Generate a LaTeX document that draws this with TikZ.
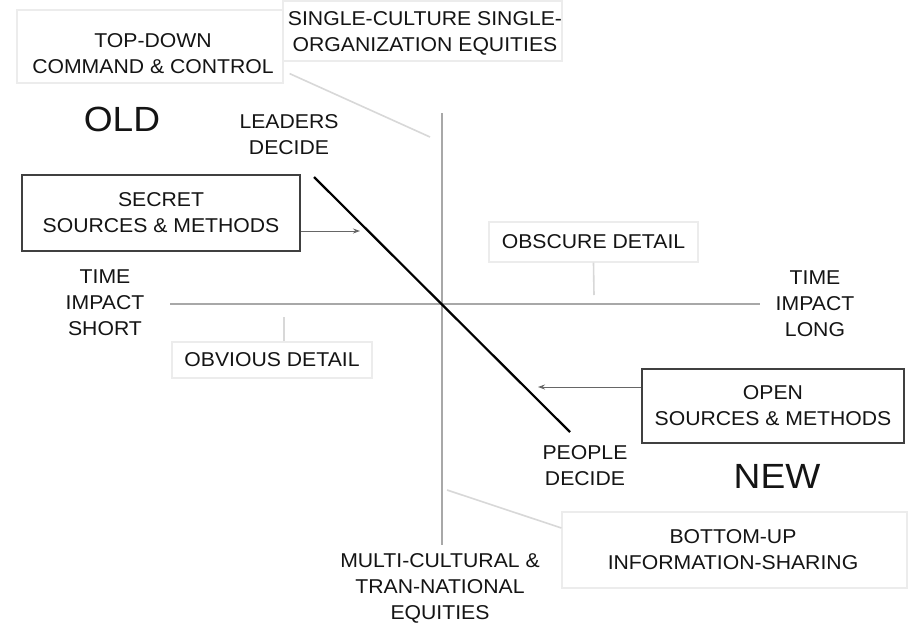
\documentclass[tikz,border=0pt]{standalone}
\usepackage{fontspec}
\setmainfont{Liberation Sans}[FakeStretch=1.06]
\usetikzlibrary{arrows.meta}
\definecolor{ink}{HTML}{141414}
\definecolor{axisgray}{HTML}{A8A8A8}
\definecolor{faint}{HTML}{ECECEC}
\definecolor{faintline}{HTML}{D8D8D8}
\definecolor{boxline}{HTML}{404040}
\tikzset{
  lbl/.style={text=ink, align=center, inner sep=0pt, font=\fontsize{20}{26}\selectfont},
  big/.style={text=ink, inner sep=0pt, font=\fontsize{35}{40}\selectfont},
  solidbox/.style={draw=boxline, line width=1.4pt, minimum width=#1, minimum height=74pt, inner sep=0pt},
  frame/.style={draw=faint, line width=1.2pt, inner sep=0pt},
  axis/.style={draw=axisgray, line width=1.3pt},
  faintconn/.style={draw=faintline, line width=1.6pt},
  decide/.style={draw=black, line width=2.2pt},
  pointer/.style={draw=gray!80!black, line width=1pt, -{Stealth[length=7pt,width=5pt]}}
}
\begin{document}
\begin{tikzpicture}[x=1pt,y=-1pt]
\useasboundingbox (0,0) rectangle (914,625);
\fill[white] (0,0) rectangle (914,625);

% faint frames
\node[frame, minimum width=266pt, minimum height=73pt] (tdframe) at (150,46.5) {};
\node[frame, minimum width=279pt, minimum height=60pt] (scframe) at (422.5,31) {};
\node[frame, minimum width=209pt, minimum height=40pt] (obsframe) at (593.5,242) {};
\node[frame, minimum width=200pt, minimum height=36pt] (obvframe) at (272,360) {};
\node[frame, minimum width=345pt, minimum height=76pt] (buframe) at (734.5,550) {};

% faint connectors
\coordinate (tdend) at (430,137);
\coordinate (obsend) at (594,295);
\coordinate (obvend) at (284,317);
\coordinate (bustart) at (447,490);
\draw[faintconn] (tdframe.south east) ++(6,-10) coordinate (tdstart) -- (tdend);
\draw[faintconn] (obsframe.south) -- (obsend);
\draw[faintconn] (obvframe.north -| obvend) -- (obvend);
\draw[faintconn] (bustart) -- (buframe.west |- 0,528);

% axes
\coordinate (vtop) at (442,113);
\coordinate (vbot) at (442,545);
\coordinate (hleft) at (170,304);
\coordinate (hright) at (760,304);
\draw[axis] (vtop) -- (vbot);
\draw[axis] (hleft) -- (hright);

% decision line
\coordinate (dtop) at (314,177);
\coordinate (dbot) at (570,432);
\draw[decide] (dtop) -- (dbot);

% texts
\node[lbl] (topdown) at (153,53.5) {TOP-DOWN\\COMMAND \& CONTROL};
\node[lbl] (single) at (425,33) {SINGLE-CULTURE SINGLE-\\ORGANIZATION EQUITIES};
\node[big] (old) at (122,119) {OLD};
\node[lbl] (leaders) at (289,135) {LEADERS\\DECIDE};
\node[lbl] (short) at (105,302.5) {TIME\\IMPACT\\SHORT};
\node[lbl] (long) at (815,303.5) {TIME\\IMPACT\\LONG};
\node[lbl] at (obsframe.center) (obscure) {OBSCURE DETAIL};
\node[lbl] at (obvframe.center) (obvious) {OBVIOUS DETAIL};
\node[lbl] (people) at (585,465.5) {PEOPLE\\DECIDE};
\node[big] (new) at (777,476) {NEW};
\node[lbl] (bottomup) at (733,550) {BOTTOM-UP\\INFORMATION-SHARING};
\node[lbl] (multi) at (440,588) {MULTI-CULTURAL \&\\TRAN-NATIONAL\\EQUITIES};

% solid boxes
\node[solidbox=278pt, minimum height=76pt, lbl] (secret) at (161,213) {SECRET\\SOURCES \& METHODS};
\node[solidbox=262pt, lbl] (open) at (773,406) {OPEN\\SOURCES \& METHODS};

% pointers
\coordinate (secretend) at (360,231);
\coordinate (openend) at (538,387);
\draw[pointer] (secret.east |- secretend) -- (secretend);
\draw[pointer] (open.west |- openend) -- (openend);
\end{tikzpicture}
\end{document}
